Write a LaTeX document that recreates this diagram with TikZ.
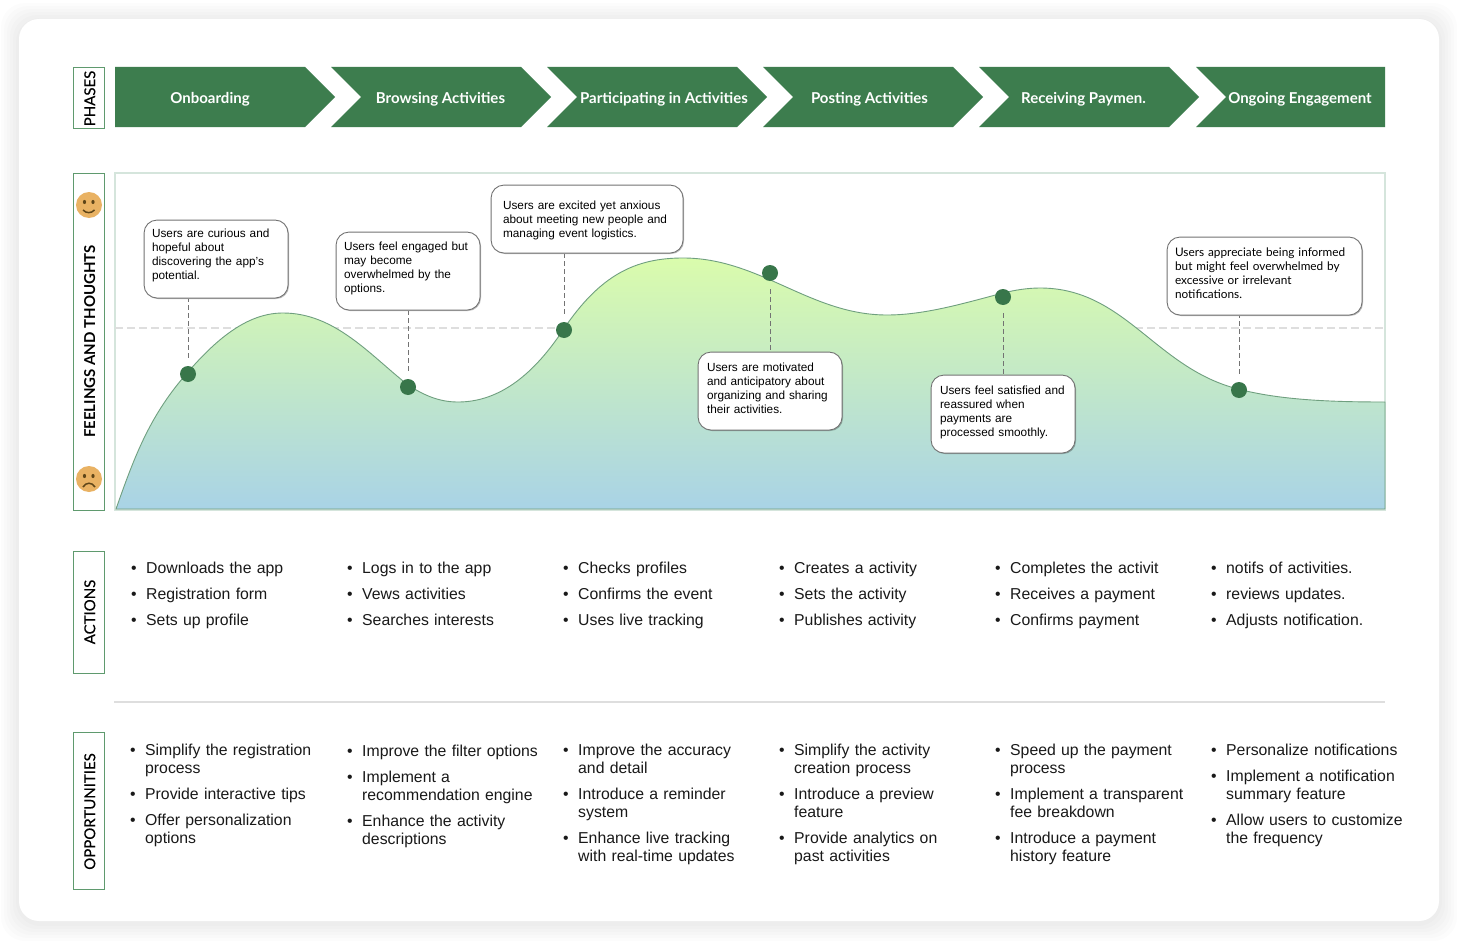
\documentclass[tikz,border=0pt]{standalone}
\usepackage{fontspec}
\setmainfont{Liberation Sans}
\newfontfamily\latofont{Lato}
\newfontfamily\latomed[FakeBold=0.2]{Lato}
\usetikzlibrary{shadows}
\definecolor{phasegreen}{HTML}{3D7D4E}
\definecolor{dotgreen}{HTML}{38764A}
\definecolor{tagborder}{HTML}{5F9A6E}
\definecolor{frameline}{HTML}{D5E5DC}
\definecolor{curveline}{HTML}{6F9F7F}
\definecolor{curvetop}{HTML}{DAFCAC}
\definecolor{curvebot}{HTML}{A9D3E6}
\definecolor{faceyellow}{HTML}{E9B263}
\definecolor{facedark}{HTML}{5E4518}
\newcommand{\itm}[1]{\par\leftskip=15pt\noindent\llap{\makebox[15pt][l]{•}}#1}
\tikzset{
    tagbox/.style={draw=tagborder, line width=0.9pt, fill=white, minimum width=31pt, inner sep=0pt},
    taglabel/.style={rotate=90, yshift=-1pt, font=\latomed\fontsize{15}{16}\selectfont, text=black},
    phaselabel/.style={text=white, font=\latofont\bfseries\fontsize{15}{18}\selectfont},
    note/.style={draw=black!55, line width=0.9pt, fill=white, rounded corners=13pt, anchor=north west,
        inner xsep=8pt, inner ysep=0pt, align=left, font=\fontsize{11.8}{14}\selectfont,
        drop shadow={shadow xshift=1pt, shadow yshift=-1pt, opacity=0.25, fill=black}},
    dot/.style={circle, fill=dotgreen, minimum size=16pt, inner sep=0pt},
    link/.style={draw=black!55, line width=0.6pt, dash pattern=on 5pt off 3pt, shorten <=8pt, xshift=-0.5pt},
    listcol/.style={anchor=north west, inner sep=0pt, text width=205pt,
        font=\fontsize{15.8}{18}\selectfont, text=black!90},
    face/.style={circle, fill=faceyellow, minimum size=26pt, inner sep=0pt},
}
\begin{document}
\begin{tikzpicture}[x=1pt, y=-1pt]
    \useasboundingbox (0,0) rectangle (1460,942);

    \foreach \g in {18,15,12,9,6,3}
        \fill[black, opacity=0.01, rounded corners=24pt] (19-\g,19-\g+2) rectangle (1439+\g,921+\g+2);
    \fill[white, rounded corners=20pt] (19,19) rectangle (1439,921);

    \node[tagbox, minimum height=61pt] (tagphases) at (88.8,97.5) {};
    \node[taglabel, xshift=-1pt] at (tagphases) {PHASES};
    \node[tagbox, minimum height=337pt] (tagfeel) at (88.8,341.5) {};
    \node[taglabel, font=\latofont\bfseries\fontsize{15}{16}\selectfont] at (tagfeel) {FEELINGS AND THOUGHTS};
    \node[tagbox, minimum height=122pt] (tagactions) at (88.8,612) {};
    \node[taglabel] at (tagactions) {ACTIONS};
    \node[tagbox, minimum height=157pt] (tagopp) at (88.8,810.5) {};
    \node[taglabel, xshift=-1pt] at (tagopp) {OPPORTUNITIES};

    \fill[phasegreen] (115,67) -- (305,67) -- (335,97) -- (305,127) -- (115,127) -- cycle;
    \foreach \x in {331,547,763,979}
        \fill[phasegreen] (\x,67) -- (\x+190,67) -- (\x+220,97) -- (\x+190,127) -- (\x,127) -- (\x+30,97) -- cycle;
    \fill[phasegreen] (1196,67) -- (1385,67) -- (1385,127) -- (1196,127) -- (1226,97) -- cycle;
    \node[phaselabel] (ph1) at (210,99.5) {Onboarding};
    \node[phaselabel] (ph2) at (440.5,99.5) {Browsing Activities};
    \node[phaselabel] (ph3) at (664,99.5) {Participating in Activities};
    \node[phaselabel] (ph4) at (869.5,99.5) {Posting Activities};
    \node[phaselabel] (ph5) at (1083.5,99.5) {Receiving Paymen.};
    \node[phaselabel] (ph6) at (1300,99.5) {Ongoing Engagement};

    \draw[frameline, line width=1.5pt] (115,173) rectangle (1385,510);
    \draw[black!13, line width=1.4pt, dash pattern=on 8pt off 4pt] (115,328) -- (1385,328);
    \draw[curveline, line width=0.9pt, top color=curvetop, bottom color=curvebot]
        (116,509) .. controls (135,455) and (150,415) .. (188,372)
        .. controls (220,335) and (250,313) .. (283,313)
        .. controls (335,313) and (370,355) .. (408,385)
        .. controls (425,396) and (440,402) .. (458,402)
        .. controls (495,402) and (530,380) .. (563,330)
        .. controls (600,275) and (635,258) .. (683,258)
        .. controls (760,258) and (810,315) .. (887,315)
        .. controls (925,315) and (965,303) .. (1003,293)
        .. controls (1015,290) and (1028,288) .. (1040,288)
        .. controls (1125,288) and (1155,368) .. (1238,389)
        .. controls (1280,400) and (1330,402) .. (1385,402)
        -- (1385,509) -- cycle;

    \node[face] (happy) at (89,205) {};
    \fill[facedark] (84.5,202) ellipse (1.6 and 2.1) (93,202) ellipse (1.6 and 2.1);
    \draw[facedark, line width=1.5pt] (83,210) .. controls (86,213.5) and (91.5,213.5) .. (94.5,210);
    \node[face] (sad) at (89,479) {};
    \fill[facedark] (84.5,476) ellipse (1.6 and 2.1) (93,476) ellipse (1.6 and 2.1);
    \draw[facedark, line width=1.5pt] (83,487) .. controls (86,482) and (92,482) .. (95,487);

    \node[note, text width=128pt, minimum width=144pt, minimum height=78pt, text depth=51pt] (note1) at (143.6,219.6)
        {Users are curious and\\hopeful about\\discovering the app's\\potential.};
    \node[note, text width=128pt, minimum width=144pt, minimum height=78pt, text depth=49pt] (note2) at (335.6,231.6)
        {Users feel engaged but\\may become\\overwhelmed by the\\options.};
    \node[note, inner xsep=12pt, text width=168pt, minimum width=192pt, minimum height=68pt, text depth=27pt] (note3) at (490.6,184.6)
        {Users are excited yet anxious\\about meeting new people and\\managing event logistics.};
    \node[note, inner xsep=9pt, text width=126pt, minimum width=144pt, minimum height=78pt, text depth=47pt] (note4) at (697.6,351.6)
        {Users are motivated\\and anticipatory about\\organizing and sharing\\their activities.};
    \node[note, inner xsep=9pt, text width=126pt, minimum width=144pt, minimum height=78pt, text depth=47pt] (note5) at (930.6,374.6)
        {Users feel satisfied and\\reassured when\\payments are\\processed smoothly.};
    \node[note, text width=179pt, minimum width=195pt, minimum height=78pt, text depth=47pt,
        font=\latofont\fontsize{11.8}{14}\selectfont] (note6) at (1166.6,236.6)
        {Users appreciate being informed\\but might feel overwhelmed by\\excessive or irrelevant\\notifications.};

    \node[dot] (dot1) at (188,374) {};
    \node[dot] (dot2) at (408,387) {};
    \node[dot] (dot3) at (564,330) {};
    \node[dot] (dot4) at (770,273) {};
    \node[dot] (dot5) at (1003,297) {};
    \node[dot] (dot6) at (1239,390) {};

    \draw[link] (dot1) -- (dot1 |- note1.south);
    \draw[link] (dot2) -- (dot2 |- note2.south);
    \draw[link] (dot3) -- (dot3 |- note3.south);
    \draw[link] (dot4) -- (dot4 |- note4.north);
    \draw[link] (dot5) -- (dot5 |- note5.north);
    \draw[link] (dot6) -- (dot6 |- note6.south);

    \node[listcol] (act1) at (131,547) {\parskip=8pt\itm{Downloads the app}\itm{Registration form}\itm{Sets up profile}\par};
    \node[listcol] (act2) at (347,547) {\parskip=8pt\itm{Logs in to the app}\itm{Vews activities}\itm{Searches interests}\par};
    \node[listcol] (act3) at (563,547) {\parskip=8pt\itm{Checks profiles}\itm{Confirms the event}\itm{Uses live tracking}\par};
    \node[listcol] (act4) at (779,547) {\parskip=8pt\itm{Creates a activity}\itm{Sets the activity}\itm{Publishes activity}\par};
    \node[listcol] (act5) at (995,547) {\parskip=8pt\itm{Completes the activit}\itm{Receives a payment}\itm{Confirms payment}\par};
    \node[listcol] (act6) at (1211,547) {\parskip=8pt\itm{notifs of activities.}\itm{reviews updates.}\itm{Adjusts notification.}\par};

    \draw[black!13, line width=1.4pt] (114,702) -- (1385,702);

    \node[listcol] (opp1) at (130,729) {\parskip=8pt\itm{Simplify the registration\\process}\itm{Provide interactive tips}\itm{Offer personalization\\options}\par};
    \node[listcol] (opp2) at (347,730) {\parskip=8pt\itm{Improve the filter options}\itm{Implement a\\recommendation engine}\itm{Enhance the activity\\descriptions}\par};
    \node[listcol] (opp3) at (563,729) {\parskip=8pt\itm{Improve the accuracy\\and detail}\itm{Introduce a reminder\\system}\itm{Enhance live tracking\\with real-time updates}\par};
    \node[listcol] (opp4) at (779,729) {\parskip=8pt\itm{Simplify the activity\\creation process}\itm{Introduce a preview\\feature}\itm{Provide analytics on\\past activities}\par};
    \node[listcol] (opp5) at (995,729) {\parskip=8pt\itm{Speed up the payment\\process}\itm{Implement a transparent\\fee breakdown}\itm{Introduce a payment\\history feature}\par};
    \node[listcol] (opp6) at (1211,729) {\parskip=8pt\itm{Personalize notifications}\itm{Implement a notification\\summary feature}\itm{Allow users to customize\\the frequency}\par};
\end{tikzpicture}
\end{document}
